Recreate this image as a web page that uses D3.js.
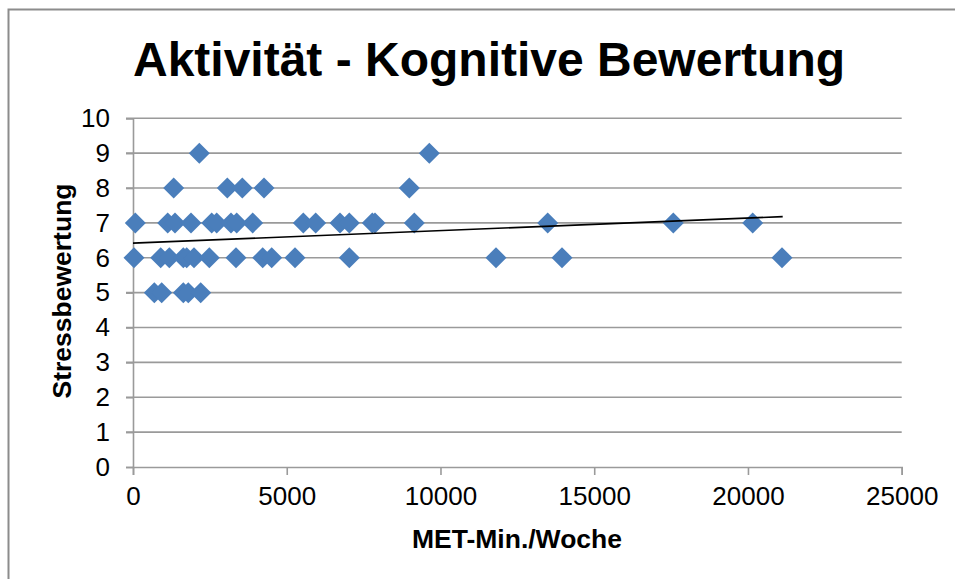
<!DOCTYPE html>
<html lang="de">
<head>
  <meta charset="UTF-8">
  <title>Aktivität - Kognitive Bewertung</title>
  <style>
    body { margin: 0; background: #fff; }
    svg { display: block; font-family: "Liberation Sans", Arial, sans-serif; }
  </style>
</head>
<body>
  <div id="chart"></div>
  <script src="https://d3js.org/d3.v7.min.js"></script>
  <script>
    // MET-Min./Woche (x) and Stressbewertung (y)
    var metMinutes = [
      2156, 9636,
      1324, 3067, 3555, 4260, 8986,
      75, 1129, 1366, 1886, 2560, 2722, 3187, 3373, 3893, 5539, 5942, 6732, 7035, 7783, 7870, 9149, 13487, 17572, 20154,
      33, 901, 1181, 1636, 1746, 1984, 2481, 3350, 4218, 4511, 5269, 7035, 11806, 13952, 21107,
      693, 933, 1636, 1798, 2202
    ];
    var stress = [
      9, 9,
      8, 8, 8, 8, 8,
      7, 7, 7, 7, 7, 7, 7, 7, 7, 7, 7, 7, 7, 7, 7, 7, 7, 7, 7,
      6, 6, 6, 6, 6, 6, 6, 6, 6, 6, 6, 6, 6, 6, 6,
      5, 5, 5, 5, 5
    ];
    // linear trend line end points as seen in the chart
    var trendX = [0, 21130];
    var trendY = [6.42, 7.18];

    var xTicks = [0, 5000, 10000, 15000, 20000, 25000];
    var yTicks = [0, 1, 2, 3, 4, 5, 6, 7, 8, 9, 10];

    var width = 955, height = 579;
    var svg = d3.select("#chart").append("svg")
        .attr("width", width)
        .attr("height", height);

    // chart frame
    svg.append("rect")
        .attr("x", 8.5).attr("y", 9.5)
        .attr("width", 960).attr("height", 600)
        .attr("fill", "none")
        .attr("stroke", "#8c8c8c")
        .attr("stroke-width", 2);

    var x = d3.scaleLinear().domain([0, 25000]).range([133, 901.7]);
    var y = d3.scaleLinear().domain([0, 10]).range([467, 118.3]);

    // gridlines
    svg.append("g")
        .selectAll("line")
        .data(yTicks.filter(d => d > 0))
        .enter().append("line")
        .attr("x1", x(0) - 7).attr("x2", x(25000))
        .attr("y1", d => y(d)).attr("y2", d => y(d))
        .attr("stroke", "#9a9a9a")
        .attr("stroke-width", 1.6);

    // y axis
    var yAxis = svg.append("g")
        .attr("transform", "translate(" + x(0) + ",0)")
        .call(d3.axisLeft(y).tickValues(yTicks).tickSize(7).tickPadding(16));
    yAxis.select(".domain").attr("stroke", "#9a9a9a").attr("stroke-width", 1.6);
    yAxis.selectAll(".tick line").attr("stroke", "#9a9a9a").attr("stroke-width", 1.6);
    yAxis.selectAll("text")
        .attr("font-size", 26)
        .attr("font-family", "Liberation Sans, Arial, sans-serif")
        .attr("fill", "#000");

    // x axis
    var xAxis = svg.append("g")
        .attr("transform", "translate(0," + y(0) + ")")
        .call(d3.axisBottom(x).tickValues(xTicks).tickFormat(d3.format("d")).tickSize(8).tickPadding(12));
    xAxis.select(".domain").attr("stroke", "#9a9a9a").attr("stroke-width", 1.6);
    xAxis.selectAll(".tick line").attr("stroke", "#9a9a9a").attr("stroke-width", 1.6);
    xAxis.selectAll("text")
        .attr("font-size", 26)
        .attr("font-family", "Liberation Sans, Arial, sans-serif")
        .attr("fill", "#000");

    // points
    var points = metMinutes.map((v, i) => ({x: v, y: stress[i]}));
    svg.append("g")
        .selectAll("path")
        .data(points)
        .enter().append("path")
        .attr("d", "M0,-10.5L10.5,0L0,10.5L-10.5,0Z")
        .attr("transform", d => "translate(" + x(d.x) + "," + y(d.y) + ")")
        .attr("fill", "#4a7ebb");

    // trend line
    svg.append("line")
        .attr("x1", x(trendX[0])).attr("y1", y(trendY[0]))
        .attr("x2", x(trendX[1])).attr("y2", y(trendY[1]))
        .attr("stroke", "#000")
        .attr("stroke-width", 1.6);

    // title
    svg.append("text")
        .attr("x", 489).attr("y", 76)
        .attr("text-anchor", "middle")
        .attr("font-size", 48)
        .attr("font-weight", "bold")
        .text("Aktivität - Kognitive Bewertung");

    // axis titles
    svg.append("text")
        .attr("x", 517).attr("y", 548)
        .attr("text-anchor", "middle")
        .attr("font-size", 26.5)
        .attr("font-weight", "bold")
        .text("MET-Min./Woche");

    svg.append("text")
        .attr("transform", "translate(71,291) rotate(-90)")
        .attr("text-anchor", "middle")
        .attr("font-size", 26.5)
        .attr("font-weight", "bold")
        .text("Stressbewertung");
  </script>
</body>
</html>
